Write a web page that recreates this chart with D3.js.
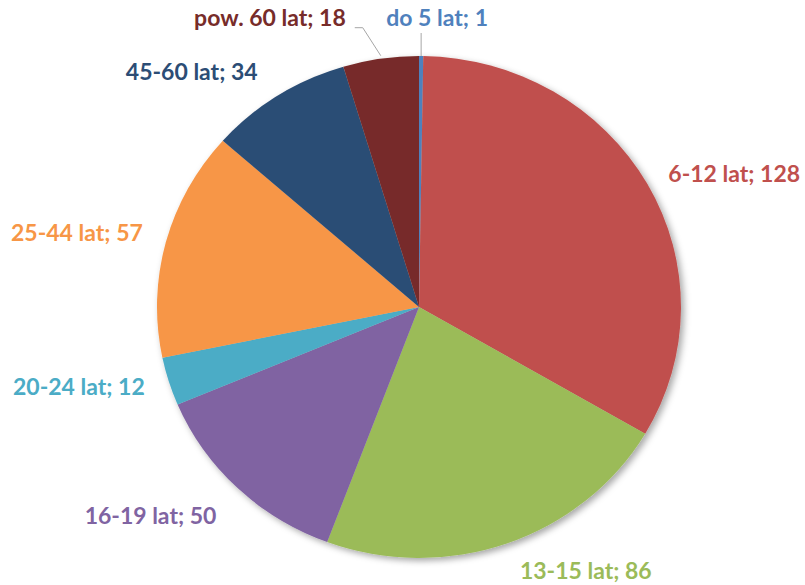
<!DOCTYPE html>
<html>
<head>
<meta charset="utf-8">
<script src="https://cdn.jsdelivr.net/npm/d3@7"></script>
<style>
  html, body { margin: 0; padding: 0; background: #ffffff; }
  svg { display: block; }
  text { font-family: Lato, "Open Sans", sans-serif; font-weight: bold; }
</style>
</head>
<body>
<svg id="chart" width="805" height="585"></svg>
<script>
// ---- data ----
const categories = ["do 5 lat", "6-12 lat", "13-15 lat", "16-19 lat", "20-24 lat", "25-44 lat", "45-60 lat", "pow. 60 lat"];
const values = [1, 128, 86, 50, 12, 57, 34, 18];
const colors = ["#4f81bd", "#c0504d", "#9bbb59", "#8064a2", "#4bacc6", "#f79646", "#2c4d75", "#772c2a"];

// ---- layout ----
const W = 805, H = 585;
const cx = 419, cy = 307;
const rx = 262, ry = 251;
// label offsets from outer-edge point at slice mid angle: [dx, dy, anchor]
const labelOffsets = [
  [16, -38, "middle"],
  [21, -10, "start"],
  [79, 27, "middle"],
  [-87, 28, "middle"],
  [-24, 6, "end"],
  [-23, -9, "end"],
  [-20, -24, "end"],
  [-35, -41, "end"]
];

const data = categories.map((c, i) => ({ cat: c, val: values[i], color: colors[i], off: labelOffsets[i] }));

const svg = d3.select("#chart");
const defs = svg.append("defs");
const f = defs.append("filter").attr("id", "shadow")
  .attr("x", "-10%").attr("y", "-10%").attr("width", "125%").attr("height", "125%");
f.append("feDropShadow").attr("dx", 3).attr("dy", 3).attr("stdDeviation", 3.5)
  .attr("flood-color", "#000").attr("flood-opacity", 0.35);

const pie = d3.pie().value(d => d.val).sort(null);
const arcs = pie(data);
const arc = d3.arc().innerRadius(0).outerRadius(rx);

const g = svg.append("g")
  .attr("transform", `translate(${cx},${cy}) scale(1,${ry / rx})`)
  .attr("filter", "url(#shadow)");

g.selectAll("path").data(arcs).enter().append("path")
  .attr("d", arc)
  .attr("fill", d => d.data.color);

function edgePoint(a) {
  return [cx + rx * Math.sin(a), cy - ry * Math.cos(a)];
}

// leader lines for the two small slices at the top
const leaders = svg.append("g");
{
  const a0 = arcs[0];
  const m = (a0.startAngle + a0.endAngle) / 2;
  const p = edgePoint(m);
  leaders.append("path")
    .attr("d", `M${p[0]},${p[1]} L${p[0]},${p[1] - 23}`)
    .attr("stroke", "#a6a6a6").attr("stroke-width", 1).attr("fill", "none");
  const a7 = arcs[7];
  const m7 = (a7.startAngle + a7.endAngle) / 2;
  const q = edgePoint(m7);
  leaders.append("path")
    .attr("d", `M${q[0]},${q[1] - 3} L${q[0] - 18},${q[1] - 31} L${q[0] - 26},${q[1] - 31}`)
    .attr("stroke", "#a6a6a6").attr("stroke-width", 1).attr("fill", "none");
}

// labels
svg.append("g").selectAll("text").data(arcs).enter().append("text")
  .attr("x", d => edgePoint((d.startAngle + d.endAngle) / 2)[0] + d.data.off[0])
  .attr("y", d => edgePoint((d.startAngle + d.endAngle) / 2)[1] + d.data.off[1])
  .attr("dy", "0.35em")
  .attr("text-anchor", d => d.data.off[2])
  .attr("fill", d => d.data.color)
  .attr("font-size", 23)
  .text(d => `${d.data.cat}; ${d.data.val}`);
</script>
</body>
</html>
